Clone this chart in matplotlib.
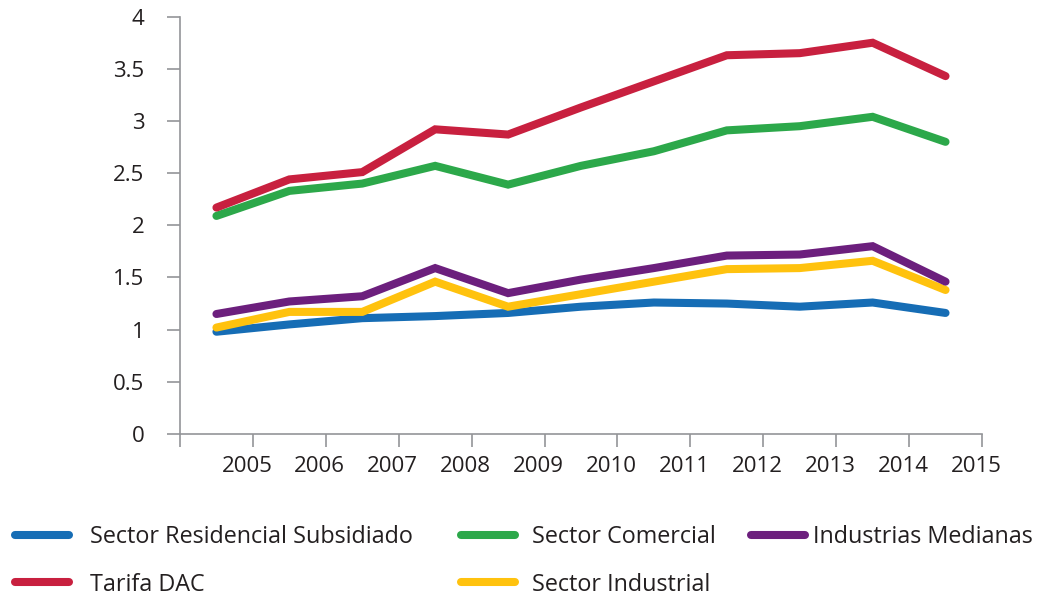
import numpy as np
import matplotlib
matplotlib.use("Agg")
import matplotlib.pyplot as plt
import matplotlib.transforms as mtransforms

plt.rcParams['font.family'] = ['Open Sans', 'DejaVu Sans']

years = ['2005', '2006', '2007', '2008', '2009', '2010',
         '2011', '2012', '2013', '2014', '2015']

residencial = [0.98, 1.05, 1.11, 1.13, 1.16, 1.22, 1.26, 1.25, 1.22, 1.26, 1.16]
tarifa_dac = [2.17, 2.44, 2.51, 2.92, 2.87, 3.13, 3.38, 3.63, 3.65, 3.75, 3.43]
comercial = [2.09, 2.33, 2.40, 2.57, 2.39, 2.57, 2.71, 2.91, 2.95, 3.04, 2.80]
industrial = [1.02, 1.17, 1.17, 1.46, 1.22, 1.34, 1.46, 1.58, 1.59, 1.66, 1.38]
medianas = [1.15, 1.27, 1.32, 1.59, 1.35, 1.48, 1.59, 1.71, 1.72, 1.80, 1.46]

series = [
    ('Sector Residencial Subsidiado', residencial, '#166db5'),
    ('Tarifa DAC', tarifa_dac, '#c8203f'),
    ('Sector Comercial', comercial, '#2ca84a'),
    ('Sector Industrial', industrial, '#ffc20e'),
    ('Industrias Medianas', medianas, '#6c1f7d'),
]

text_color = '#231f20'
axis_color = '#939598'

fig = plt.figure(figsize=(10.44, 5.99), dpi=100)
ax = fig.add_axes([0.1724, 0.2755, 0.7682, 0.6967])

# each year sits in the middle of its slot
x = np.arange(len(years)) + 0.5
# draw back to front so the blue line ends up under the others
order = [0, 3, 4, 2, 1]
handles = {}
for i in order:
    name, vals, color = series[i]
    line, = ax.plot(x, vals, color=color, lw=5.8, solid_capstyle='round',
                    solid_joinstyle='miter', label=name)
    handles[name] = line

ax.set_xlim(0, len(years))
ax.set_ylim(0, 4)
ax.set_xticks(np.arange(len(years) + 1))
ax.set_xticklabels([''] + years)
ax.set_yticks(np.arange(0, 4.01, 0.5))
ax.set_yticklabels(['0', '0.5', '1', '1.5', '2', '2.5', '3', '3.5', '4'])

for side in ['top', 'right']:
    ax.spines[side].set_visible(False)
for side in ['left', 'bottom']:
    ax.spines[side].set_color(axis_color)
    ax.spines[side].set_linewidth(1.2)

ax.tick_params(axis='both', direction='out', length=9.5, width=1.2,
               color=axis_color, labelcolor=text_color, labelsize=16)
ax.tick_params(axis='y', pad=16)
ax.tick_params(axis='x', pad=6)

# year labels sit a little to the left of their ticks
shift = mtransforms.ScaledTranslation(-6 / 100, 0, fig.dpi_scale_trans)
for lbl in ax.get_xticklabels():
    lbl.set_transform(lbl.get_transform() + shift)

# legend in three columns, each placed on its own
columns = [
    (['Sector Residencial Subsidiado', 'Tarifa DAC'], 0.0144, 0.9),
    (['Sector Comercial', 'Sector Industrial'], 0.4416, 0.75),
    (['Industrias Medianas'], 0.7193, 0.35),
]
for names, x0, pad in columns:
    leg = fig.legend([handles[n] for n in names], names,
                     loc='upper left', bbox_to_anchor=(x0, 0.124),
                     frameon=False, fontsize=16.8, handlelength=2.3,
                     handletextpad=pad, labelspacing=1.02,
                     borderpad=0, borderaxespad=0)
    for t in leg.get_texts():
        t.set_color(text_color)

fig.savefig('out.png', dpi=100)
